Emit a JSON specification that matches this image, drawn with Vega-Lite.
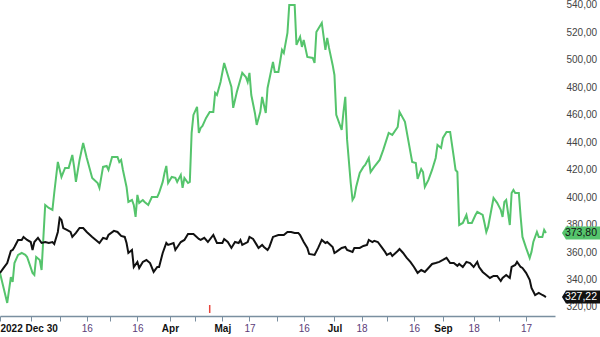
{
  "$schema": "https://vega.github.io/schema/vega-lite/v6.json",
  "width": 555,
  "height": 316,
  "autosize": "none",
  "padding": {"left": 0, "top": 0, "right": 45, "bottom": 21},
  "background": "white",
  "config": {"view": {"stroke": null}, "font": "Liberation Sans"},
  "datasets": {
    "aktie": [
      {"date":"2022-12-30","value":344.8},{"date":"2023-01-03","value":322.9},{"date":"2023-01-05","value":341.8},{"date":"2023-01-06","value":338.2},{"date":"2023-01-07","value":352.0},{"date":"2023-01-09","value":357.9},{"date":"2023-01-11","value":359.3},{"date":"2023-01-13","value":357.9},{"date":"2023-01-14","value":356.4},{"date":"2023-01-17","value":344.8},{"date":"2023-01-18","value":343.3},{"date":"2023-01-19","value":356.4},{"date":"2023-01-21","value":354.2},{"date":"2023-01-22","value":346.9},{"date":"2023-01-24","value":394.3},{"date":"2023-01-26","value":392.1},{"date":"2023-01-28","value":390.7},{"date":"2023-01-29","value":403.0},{"date":"2023-01-31","value":425.6},
      {"date":"2023-02-02","value":414.7},{"date":"2023-02-04","value":421.3},{"date":"2023-02-06","value":421.3},{"date":"2023-02-08","value":430.7},{"date":"2023-02-09","value":422.0},{"date":"2023-02-10","value":411.1},{"date":"2023-02-12","value":427.1},{"date":"2023-02-14","value":439.5},{"date":"2023-02-16","value":428.5},{"date":"2023-02-19","value":414.0},{"date":"2023-02-22","value":410.3},{"date":"2023-02-23","value":406.7},{"date":"2023-02-25","value":422.0},{"date":"2023-02-27","value":422.7},{"date":"2023-02-28","value":419.8},
      {"date":"2023-03-02","value":429.3},{"date":"2023-03-05","value":429.3},{"date":"2023-03-06","value":425.6},{"date":"2023-03-07","value":427.1},{"date":"2023-03-08","value":419.8},{"date":"2023-03-10","value":407.4},{"date":"2023-03-11","value":396.5},{"date":"2023-03-13","value":397.9},{"date":"2023-03-14","value":394.3},{"date":"2023-03-15","value":385.6},{"date":"2023-03-16","value":401.6},{"date":"2023-03-17","value":395.8},{"date":"2023-03-19","value":397.9},{"date":"2023-03-20","value":396.5},{"date":"2023-03-22","value":394.3},{"date":"2023-03-24","value":400.1},{"date":"2023-03-27","value":400.1},{"date":"2023-03-28","value":403.0},{"date":"2023-03-30","value":411.1},{"date":"2023-03-31","value":417.6},
      {"date":"2023-04-01","value":422.7},{"date":"2023-04-02","value":410.3},{"date":"2023-04-04","value":414.7},{"date":"2023-04-06","value":414.0},{"date":"2023-04-07","value":411.1},{"date":"2023-04-09","value":416.2},{"date":"2023-04-10","value":406.7},{"date":"2023-04-11","value":414.0},{"date":"2023-04-13","value":410.3},{"date":"2023-04-14","value":411.1},{"date":"2023-04-15","value":446.8},{"date":"2023-04-16","value":459.9},{"date":"2023-04-18","value":465.7},{"date":"2023-04-19","value":446.8},{"date":"2023-04-20","value":450.4},{"date":"2023-04-21","value":451.9},{"date":"2023-04-23","value":457.7},{"date":"2023-04-25","value":462.1},{"date":"2023-04-27","value":462.1},{"date":"2023-04-28","value":475.9},{"date":"2023-04-29","value":474.4},
      {"date":"2023-05-01","value":483.9},{"date":"2023-05-03","value":497.7},{"date":"2023-05-05","value":489.0},{"date":"2023-05-07","value":480.3},{"date":"2023-05-08","value":465.0},{"date":"2023-05-10","value":476.6},{"date":"2023-05-13","value":490.5},{"date":"2023-05-15","value":487.5},{"date":"2023-05-16","value":483.9},{"date":"2023-05-17","value":490.5},{"date":"2023-05-18","value":474.4},{"date":"2023-05-20","value":461.3},{"date":"2023-05-21","value":452.6},{"date":"2023-05-23","value":462.1},{"date":"2023-05-24","value":473.0},{"date":"2023-05-26","value":461.3},{"date":"2023-05-27","value":479.5},{"date":"2023-05-30","value":498.5},{"date":"2023-05-31","value":491.2},
      {"date":"2023-06-02","value":491.2},{"date":"2023-06-04","value":507.2},{"date":"2023-06-05","value":505.0},{"date":"2023-06-07","value":519.6},{"date":"2023-06-08","value":540.0},{"date":"2023-06-11","value":540.0},{"date":"2023-06-12","value":510.9},{"date":"2023-06-14","value":516.7},{"date":"2023-06-15","value":509.4},{"date":"2023-06-16","value":514.5},{"date":"2023-06-18","value":502.1},{"date":"2023-06-21","value":501.4},{"date":"2023-06-22","value":497.7},{"date":"2023-06-23","value":520.3},{"date":"2023-06-26","value":526.9},{"date":"2023-06-28","value":507.2},{"date":"2023-06-29","value":516.0},{"date":"2023-06-30","value":508.7},
      {"date":"2023-07-02","value":496.3},{"date":"2023-07-03","value":489.0},{"date":"2023-07-04","value":459.9},{"date":"2023-07-07","value":448.9},{"date":"2023-07-08","value":462.1},{"date":"2023-07-09","value":473.0},{"date":"2023-07-10","value":441.7},{"date":"2023-07-12","value":410.3},{"date":"2023-07-13","value":397.9},{"date":"2023-07-14","value":400.1},{"date":"2023-07-15","value":407.4},{"date":"2023-07-17","value":417.6},{"date":"2023-07-19","value":422.0},{"date":"2023-07-20","value":423.4},{"date":"2023-07-22","value":428.5},{"date":"2023-07-23","value":418.3},{"date":"2023-07-25","value":422.0},{"date":"2023-07-28","value":427.1},{"date":"2023-07-30","value":434.4},
      {"date":"2023-08-02","value":446.8},{"date":"2023-08-04","value":445.3},{"date":"2023-08-07","value":451.1},{"date":"2023-08-08","value":462.1},{"date":"2023-08-11","value":454.8},{"date":"2023-08-13","value":440.2},{"date":"2023-08-15","value":425.6},{"date":"2023-08-17","value":424.9},{"date":"2023-08-18","value":413.2},{"date":"2023-08-20","value":420.5},{"date":"2023-08-21","value":418.3},{"date":"2023-08-22","value":407.4},{"date":"2023-08-24","value":412.5},{"date":"2023-08-26","value":419.8},{"date":"2023-08-28","value":428.5},{"date":"2023-08-29","value":438.0},{"date":"2023-08-31","value":435.8},
      {"date":"2023-09-01","value":443.1},{"date":"2023-09-03","value":447.5},{"date":"2023-09-05","value":447.5},{"date":"2023-09-07","value":429.3},{"date":"2023-09-08","value":419.8},{"date":"2023-09-09","value":418.3},{"date":"2023-09-10","value":379.7},{"date":"2023-09-12","value":381.2},{"date":"2023-09-14","value":387.0},{"date":"2023-09-15","value":381.2},{"date":"2023-09-17","value":381.2},{"date":"2023-09-19","value":387.0},{"date":"2023-09-20","value":389.2},{"date":"2023-09-23","value":387.0},{"date":"2023-09-24","value":381.2},{"date":"2023-09-25","value":374.6},{"date":"2023-09-26","value":378.3},{"date":"2023-09-29","value":399.4},
      {"date":"2023-10-01","value":395.8},{"date":"2023-10-03","value":390.7},{"date":"2023-10-04","value":385.6},{"date":"2023-10-05","value":396.5},{"date":"2023-10-06","value":397.9},{"date":"2023-10-08","value":379.7},{"date":"2023-10-09","value":403.0},{"date":"2023-10-10","value":405.2},{"date":"2023-10-11","value":403.0},{"date":"2023-10-13","value":403.0},{"date":"2023-10-14","value":385.6},{"date":"2023-10-15","value":371.0},{"date":"2023-10-17","value":363.0},{"date":"2023-10-19","value":355.7},{"date":"2023-10-20","value":360.1},{"date":"2023-10-21","value":367.3},{"date":"2023-10-23","value":374.6},{"date":"2023-10-24","value":371.0},{"date":"2023-10-26","value":371.0},{"date":"2023-10-27","value":376.1},{"date":"2023-10-28","value":373.8}
    ],
    "index": [
      {"date":"2022-12-30","value":344.8},{"date":"2023-01-01","value":348.4},{"date":"2023-01-03","value":352.0},{"date":"2023-01-05","value":360.8},{"date":"2023-01-06","value":361.5},{"date":"2023-01-07","value":363.7},{"date":"2023-01-09","value":368.8},{"date":"2023-01-11","value":368.8},{"date":"2023-01-12","value":371.0},{"date":"2023-01-14","value":368.8},{"date":"2023-01-16","value":367.3},{"date":"2023-01-17","value":361.5},{"date":"2023-01-18","value":367.3},{"date":"2023-01-20","value":370.3},{"date":"2023-01-22","value":366.6},{"date":"2023-01-24","value":367.3},{"date":"2023-01-26","value":366.6},{"date":"2023-01-28","value":367.3},{"date":"2023-01-29","value":365.9},{"date":"2023-01-31","value":374.6},
      {"date":"2023-02-01","value":384.8},{"date":"2023-02-02","value":383.4},{"date":"2023-02-03","value":377.5},{"date":"2023-02-05","value":376.1},{"date":"2023-02-07","value":374.6},{"date":"2023-02-08","value":371.0},{"date":"2023-02-10","value":373.9},{"date":"2023-02-12","value":377.5},{"date":"2023-02-14","value":377.5},{"date":"2023-02-16","value":374.6},{"date":"2023-02-19","value":371.0},{"date":"2023-02-21","value":368.8},{"date":"2023-02-23","value":366.6},{"date":"2023-02-25","value":370.3},{"date":"2023-02-27","value":369.5},{"date":"2023-02-28","value":372.4},
      {"date":"2023-03-03","value":375.4},{"date":"2023-03-05","value":374.6},{"date":"2023-03-07","value":371.7},{"date":"2023-03-09","value":371.0},{"date":"2023-03-10","value":366.6},{"date":"2023-03-11","value":359.3},{"date":"2023-03-13","value":361.5},{"date":"2023-03-14","value":349.1},{"date":"2023-03-16","value":352.8},{"date":"2023-03-17","value":348.4},{"date":"2023-03-19","value":352.8},{"date":"2023-03-21","value":354.2},{"date":"2023-03-23","value":352.0},{"date":"2023-03-25","value":345.5},{"date":"2023-03-27","value":349.1},{"date":"2023-03-28","value":349.1},{"date":"2023-03-30","value":359.3},
      {"date":"2023-04-01","value":366.6},{"date":"2023-04-02","value":365.2},{"date":"2023-04-05","value":366.6},{"date":"2023-04-06","value":361.5},{"date":"2023-04-09","value":367.3},{"date":"2023-04-11","value":368.8},{"date":"2023-04-13","value":373.2},{"date":"2023-04-16","value":373.2},{"date":"2023-04-19","value":369.5},{"date":"2023-04-20","value":368.8},{"date":"2023-04-22","value":370.3},{"date":"2023-04-24","value":367.3},{"date":"2023-04-27","value":372.4},{"date":"2023-04-29","value":366.6},
      {"date":"2023-05-02","value":366.6},{"date":"2023-05-03","value":369.5},{"date":"2023-05-05","value":367.3},{"date":"2023-05-07","value":363.0},{"date":"2023-05-09","value":367.3},{"date":"2023-05-11","value":366.6},{"date":"2023-05-12","value":368.8},{"date":"2023-05-13","value":365.2},{"date":"2023-05-16","value":367.3},{"date":"2023-05-17","value":371.0},{"date":"2023-05-19","value":369.5},{"date":"2023-05-21","value":365.2},{"date":"2023-05-22","value":363.0},{"date":"2023-05-24","value":365.2},{"date":"2023-05-25","value":363.7},{"date":"2023-05-27","value":361.5},{"date":"2023-05-28","value":363.7},{"date":"2023-05-30","value":371.0},
      {"date":"2023-06-02","value":372.4},{"date":"2023-06-05","value":372.4},{"date":"2023-06-07","value":374.6},{"date":"2023-06-09","value":374.6},{"date":"2023-06-11","value":373.9},{"date":"2023-06-13","value":373.9},{"date":"2023-06-14","value":372.4},{"date":"2023-06-16","value":367.3},{"date":"2023-06-18","value":363.0},{"date":"2023-06-19","value":358.6},{"date":"2023-06-22","value":357.9},{"date":"2023-06-24","value":363.0},{"date":"2023-06-26","value":368.8},{"date":"2023-06-28","value":366.6},{"date":"2023-06-29","value":367.3},
      {"date":"2023-07-02","value":363.7},{"date":"2023-07-03","value":359.3},{"date":"2023-07-04","value":360.1},{"date":"2023-07-07","value":363.0},{"date":"2023-07-09","value":363.7},{"date":"2023-07-10","value":361.5},{"date":"2023-07-13","value":360.1},{"date":"2023-07-14","value":363.0},{"date":"2023-07-17","value":363.0},{"date":"2023-07-19","value":364.4},{"date":"2023-07-21","value":365.2},{"date":"2023-07-22","value":368.8},{"date":"2023-07-24","value":367.3},{"date":"2023-07-25","value":368.1},{"date":"2023-07-27","value":367.3},{"date":"2023-07-29","value":363.7},{"date":"2023-07-31","value":360.1},
      {"date":"2023-08-01","value":357.9},{"date":"2023-08-03","value":359.3},{"date":"2023-08-04","value":357.1},{"date":"2023-08-07","value":360.8},{"date":"2023-08-08","value":362.2},{"date":"2023-08-10","value":359.3},{"date":"2023-08-12","value":355.7},{"date":"2023-08-14","value":352.8},{"date":"2023-08-16","value":349.1},{"date":"2023-08-18","value":344.8},{"date":"2023-08-20","value":346.9},{"date":"2023-08-22","value":345.5},{"date":"2023-08-24","value":348.4},{"date":"2023-08-26","value":351.3},{"date":"2023-08-28","value":352.0},{"date":"2023-08-30","value":352.8},
      {"date":"2023-09-01","value":354.2},{"date":"2023-09-03","value":355.7},{"date":"2023-09-05","value":352.0},{"date":"2023-09-07","value":352.0},{"date":"2023-09-09","value":349.9},{"date":"2023-09-10","value":351.3},{"date":"2023-09-12","value":349.1},{"date":"2023-09-14","value":352.8},{"date":"2023-09-16","value":352.0},{"date":"2023-09-18","value":349.1},{"date":"2023-09-20","value":352.8},{"date":"2023-09-21","value":349.1},{"date":"2023-09-23","value":345.5},{"date":"2023-09-25","value":343.3},{"date":"2023-09-27","value":341.1},{"date":"2023-09-29","value":342.6},
      {"date":"2023-10-01","value":342.6},{"date":"2023-10-03","value":338.9},{"date":"2023-10-04","value":341.1},{"date":"2023-10-06","value":343.3},{"date":"2023-10-08","value":341.1},{"date":"2023-10-09","value":349.1},{"date":"2023-10-11","value":350.6},{"date":"2023-10-12","value":352.8},{"date":"2023-10-14","value":349.1},{"date":"2023-10-15","value":348.4},{"date":"2023-10-17","value":344.8},{"date":"2023-10-19","value":339.7},{"date":"2023-10-20","value":333.8},{"date":"2023-10-22","value":328.7},{"date":"2023-10-24","value":330.2},{"date":"2023-10-26","value":328.7},{"date":"2023-10-27","value":328.0},{"date":"2023-10-28","value":327.22}
    ],
    "markers": [{"date":"2023-04-25","value":315.6,"hi":321.4}],
    "last": [
      {"date":"2023-10-28","value":373.8,"series":"Aktie","label":"373,80"},
      {"date":"2023-10-28","value":327.22,"series":"Index","label":"327,22"}
    ]
  },
  "encoding": {
    "x": {
      "field": "date", "type": "temporal", "title": null,
      "scale": {"type": "utc", "domain": [{"year": 2022, "month": 12, "date": 30, "utc": true}, {"year": 2023, "month": 11, "date": 2, "utc": true}]},
      "axis": {
        "values": [
          {"year":2022,"month":12,"date":30,"utc":true},{"year":2023,"month":1,"date":16,"utc":true},{"year":2023,"month":2,"date":1,"utc":true},{"year":2023,"month":2,"date":16,"utc":true},{"year":2023,"month":3,"date":1,"utc":true},{"year":2023,"month":3,"date":16,"utc":true},{"year":2023,"month":4,"date":3,"utc":true},{"year":2023,"month":4,"date":17,"utc":true},{"year":2023,"month":5,"date":2,"utc":true},{"year":2023,"month":5,"date":17,"utc":true},{"year":2023,"month":6,"date":1,"utc":true},{"year":2023,"month":6,"date":16,"utc":true},{"year":2023,"month":7,"date":3,"utc":true},{"year":2023,"month":7,"date":18,"utc":true},{"year":2023,"month":8,"date":1,"utc":true},{"year":2023,"month":8,"date":16,"utc":true},{"year":2023,"month":9,"date":1,"utc":true},{"year":2023,"month":9,"date":18,"utc":true},{"year":2023,"month":10,"date":2,"utc":true},{"year":2023,"month":10,"date":17,"utc":true}
        ],
        "labelExpr": "utcmonth(datum.value) == 11 ? '2022 Dec 30' : (utcdate(datum.value) < 5 ? (indexof([3,4,6,8], utcmonth(datum.value)) >= 0 ? ['Jan','Feb','Mar','Apr','Maj','Jun','Jul','Aug','Sep','Okt'][utcmonth(datum.value)] : '') : (indexof([0,3], utcmonth(datum.value)) >= 0 ? '' : utcFormat(datum.value, '%-d')))",
        "labelFontWeight": {"condition": {"test": "utcdate(datum.value) < 5 || utcmonth(datum.value) == 11", "value": "bold"}, "value": "normal"},
        "labelColor": {"condition": {"test": "utcdate(datum.value) < 5 || utcmonth(datum.value) == 11", "value": "#111111"}, "value": "#5b3c78"},
        "labelAlign": {"condition": {"test": "utcmonth(datum.value) == 11", "value": "left"}, "value": "center"},
        "labelFont": "Liberation Sans", "labelFontSize": 10, "labelPadding": 2,
        "labelOverlap": false, "labelBound": false, "labelFlush": false,
        "domainColor": "#7a8fa0", "tickColor": "#7a8fa0", "tickSize": 5, "domainWidth": 1.5,
        "grid": false
      }
    },
    "y": {
      "field": "value", "type": "quantitative", "title": null,
      "scale": {"domain": [313.4, 543.6], "nice": false, "zero": false},
      "axis": {
        "orient": "right", "values": [320,340,360,380,400,420,440,460,480,500,520,540],
        "labelExpr": "replace(format(datum.value, '.2f'), '.', ',')",
        "labelFont": "Liberation Sans", "labelFontSize": 10, "labelColor": "#444444",
        "labelPadding": 11, "ticks": false, "domain": false, "grid": false
      }
    }
  },
  "layer": [
    {"data": {"name": "aktie"}, "mark": {"type": "line", "color": "#55c46c", "strokeWidth": 2}},
    {"data": {"name": "index"}, "mark": {"type": "line", "color": "#111111", "strokeWidth": 2}},
    {"data": {"name": "markers"}, "mark": {"type": "rule", "color": "#e8453c", "strokeWidth": 1.5}, "encoding": {"y2": {"field": "hi"}}},
    {"data": {"name": "last"}, "mark": {"type": "point", "filled": true, "size": 4, "opacity": 1, "strokeWidth": 0, "shape": "M16,0 L20,-6.5 L56,-6.5 L56,6.5 L20,6.5 Z"},
     "encoding": {"color": {"field": "series", "type": "nominal", "scale": {"domain": ["Aktie", "Index"], "range": ["#55c46c", "#111111"]}, "legend": null}}},
    {"data": {"name": "last"}, "mark": {"type": "text", "dx": 35, "align": "center", "baseline": "middle", "font": "Liberation Sans", "fontSize": 10.5},
     "encoding": {"text": {"field": "label"}, "color": {"field": "series", "type": "nominal", "scale": {"domain": ["Aktie", "Index"], "range": ["#111111", "#ffffff"]}, "legend": null}}}
  ],
  "resolve": {"scale": {"color": "independent"}}
}
